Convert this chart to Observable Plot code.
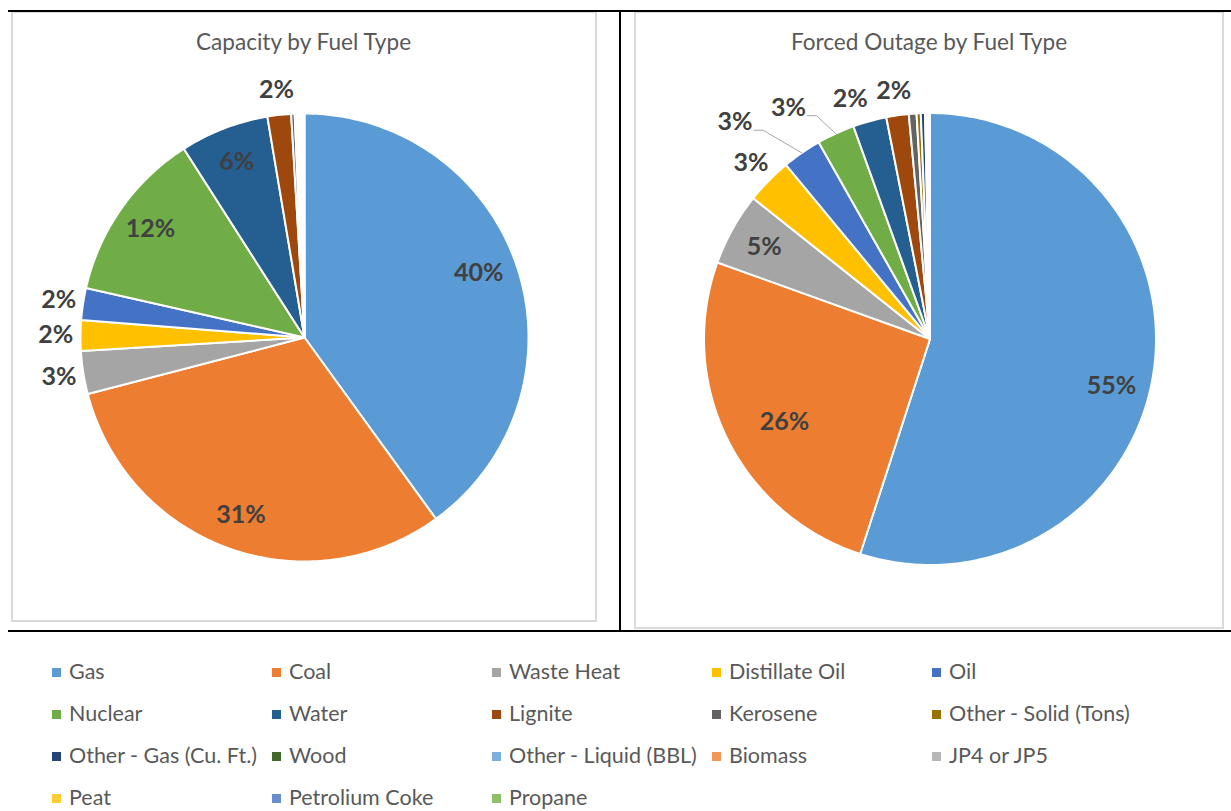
<!DOCTYPE html>
<html><head><meta charset="utf-8">
<script src="https://cdn.jsdelivr.net/npm/d3@7"></script>
<script src="https://cdn.jsdelivr.net/npm/@observablehq/plot@0.6"></script>
<style>
body{margin:0;background:#fff;font-family:Lato,"Open Sans",sans-serif;}
#page{position:relative;width:1231px;height:811px;overflow:hidden;background:#fff;}
.panel{position:absolute;box-sizing:border-box;border:2px solid #d9d9d9;}
.bl{position:absolute;background:#000;}
.title{position:absolute;font-size:22.6px;color:#595959;white-space:nowrap;transform:translate(-50%,-50%);line-height:1;}
.leg{position:absolute;font-size:21.5px;color:#595959;white-space:nowrap;transform:translateY(-50%);line-height:1.1;}
.sw{position:absolute;width:9px;height:9px;}
.pie{position:absolute;}
</style></head><body><div id="page"></div>
<script>
const fuels = ["Gas","Coal","Waste Heat","Distillate Oil","Oil","Nuclear","Water","Lignite","Kerosene","Other - Solid (Tons)","Other - Gas (Cu. Ft.)","Wood","Other - Liquid (BBL)","Biomass","JP4 or JP5","Peat","Petrolium Coke","Propane"];
const fuelColors = ["#5B9BD5","#ED7D31","#A5A5A5","#FFC000","#4472C4","#70AD47","#255E91","#9E480E","#636363","#997300","#264478","#43682B","#7CAFDD","#F1975A","#B7B7B7","#FFCD33","#698ED0","#8CC168"];
// percentage shares
const capacityShare = [40.0,30.9,3.1,2.2,2.3,12.4,6.4,1.7,0.25,0.15,0.1,0.05,0.1,0.1,0.05,0.05,0.05,0.05];
const outageShare   = [55.0,25.5,5.2,3.3,2.8,2.7,2.4,1.6,0.55,0.3,0.3,0.05,0.1,0.05,0.05,0.05,0.03,0.02];
const chartTitles = ["Capacity by Fuel Type","Forced Outage by Fuel Type"];

// layout
const page = document.getElementById("page");
function box(cls, l, t, w, h){const d=document.createElement("div");d.className=cls;Object.assign(d.style,{left:l+"px",top:t+"px",width:w+"px",height:h+"px"});page.appendChild(d);return d;}

box("panel",11,11,586,611);
box("panel",634,11,590,618);

function pieChart(values, R, adjust){
  const total = d3.sum(values);
  const pad = 1.25;
  const size = Math.round(2*pad*R);
  let a = 0;
  const polys = [], labels = [], leaders = [];
  values.forEach((v,i)=>{
    const a0 = a, a1 = a + v/total*2*Math.PI; a = a1;
    const n = Math.max(2, Math.ceil((a1-a0)/(Math.PI/180)));
    polys.push({k:i,fuel:fuels[i],x:0,y:0});
    for(let j=0;j<=n;j++){const t=a0+(a1-a0)*j/n;polys.push({k:i,fuel:fuels[i],x:Math.sin(t),y:Math.cos(t)});}
    polys.push({k:i,fuel:fuels[i],x:0,y:0});
    const pct = v/total*100;
    if(pct>=1.5){
      const adj = adjust[fuels[i]]||{};
      const m0 = (a0+a1)/2;
      const mid = m0 + (adj.da||0)*Math.PI/180;
      const r = adj.r ?? (pct>=4 ? 0.84 : 1.11);
      const lx = Math.sin(mid)*r, ly = Math.cos(mid)*r;
      labels.push({x:lx,y:ly,text:Math.round(pct)+"%"});
      if(adj.leader){
        leaders.push({k:i,x:Math.sin(m0),y:Math.cos(m0)});
        leaders.push({k:i,x:lx+28/R,y:ly-8/R});
        leaders.push({k:i,x:lx+19/R,y:ly-8/R});
      }
    }
  });
  return {size, svg: Plot.plot({
    width:size,height:size,margin:0,
    style:{background:"transparent",overflow:"visible"},
    x:{domain:[-pad,pad],axis:null},
    y:{domain:[-pad,pad],axis:null},
    color:{domain:fuels,range:fuelColors},
    marks:[
      Plot.line(polys,{x:"x",y:"y",z:"k",fill:"fuel",stroke:"white",strokeWidth:2,strokeLinejoin:"round",curve:"linear"}),
      Plot.line(leaders,{x:"x",y:"y",z:"k",stroke:"#a6a6a6",strokeWidth:1}),
      Plot.text(labels,{x:"x",y:"y",text:"text",fontSize:25,fontWeight:"bold",fill:"#404040",fontFamily:"Lato, sans-serif"})
    ]
  })};
}

const pies = [
  {values:capacityShare, R:224, cx:303.5, cy:336.5, adjust:{"Gas":{da:-2.4,r:0.83}}},
  {values:outageShare, R:226, cx:929.5, cy:338, adjust:{
    "Gas":{da:5.5,r:0.83},
    "Coal":{da:-3.5,r:0.74},
    "Oil":{da:-7.4,r:1.29,leader:true},
    "Nuclear":{da:-6.8,r:1.20,leader:true},
    "Water":{da:-2.9,r:1.12}
  }}
];
pies.forEach((p,idx)=>{
  const {size,svg} = pieChart(p.values,p.R,p.adjust);
  const wrap = document.createElement("div");
  wrap.className="pie";
  wrap.style.left=(p.cx-size/2)+"px";
  wrap.style.top=(p.cy-size/2)+"px";
  wrap.appendChild(svg);
  page.appendChild(wrap);
  const t = document.createElement("div");
  t.className="title"; t.textContent=chartTitles[idx];
  t.style.left=(idx===0?303.5:929)+"px"; t.style.top="42px";
  page.appendChild(t);
});

box("bl",8,10,1223,2);
box("bl",619,10,2,622);
box("bl",8,630,1223,2);

// legend
fuels.forEach((f,i)=>{
  const col=i%5,row=Math.floor(i/5);
  const tx=69+220*col, ty=671.5+42.3*row;
  const s=box("sw",tx-17,ty-4,9,9); s.style.background=fuelColors[i];
  const d=document.createElement("div");d.className="leg";d.textContent=f;
  d.style.left=tx+"px";d.style.top=ty+"px";page.appendChild(d);
});
</script></body></html>
